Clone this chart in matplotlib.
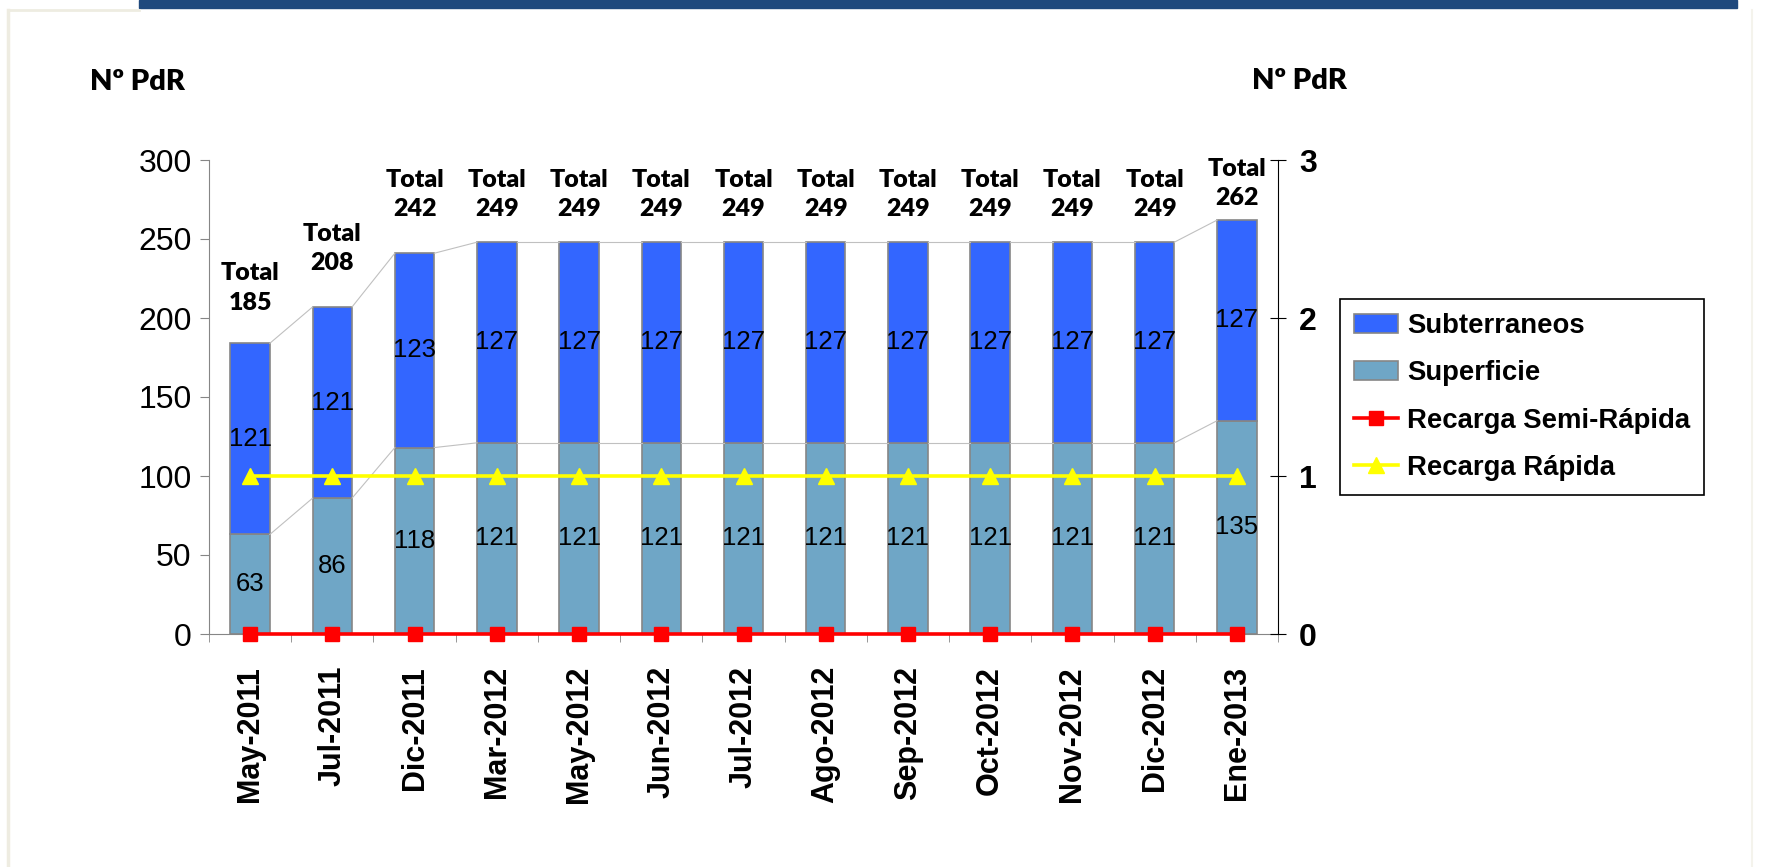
import matplotlib.pyplot as plt
from matplotlib.patches import Rectangle
from matplotlib.lines import Line2D

months = ['May-2011', 'Jul-2011', 'Dic-2011', 'Mar-2012', 'May-2012', 'Jun-2012',
          'Jul-2012', 'Ago-2012', 'Sep-2012', 'Oct-2012', 'Nov-2012', 'Dic-2012', 'Ene-2013']
superficie = [63, 86, 118, 121, 121, 121, 121, 121, 121, 121, 121, 121, 135]
subterraneos = [121, 121, 123, 127, 127, 127, 127, 127, 127, 127, 127, 127, 127]
totales = [185, 208, 242, 249, 249, 249, 249, 249, 249, 249, 249, 249, 262]
semi_rapida = [0] * 13
rapida = [1] * 13

# where the "Total" labels sit (left axis units)
total_label_y = [219, 244, 278, 278, 278, 278, 278, 278, 278, 278, 278, 278, 285]

W, H = 1768, 867
fig = plt.figure(figsize=(W / 100, H / 100), dpi=100)
fig.patch.set_facecolor('white')

# frame decoration
fig.patches.append(Rectangle((139 / W, 1 - 8 / H), (1737 - 139) / W, 8 / H,
                             transform=fig.transFigure, color='#1F497D', zorder=0))
fig.add_artist(Line2D([8 / W, 8 / W], [0, 1 - 10 / H], color='#EEECE1', lw=2.5))
fig.add_artist(Line2D([8 / W, 139 / W], [1 - 10 / H, 1 - 10 / H], color='#EEECE1', lw=2))
fig.add_artist(Line2D([1752 / W, 1752 / W], [0, 1 - 10 / H], color='#F4F3EC', lw=1.5))

ax = fig.add_axes([209 / W, (H - 634) / H, 1069 / W, 474 / H])
ax2 = ax.twinx()

x = list(range(len(months)))
w = 0.48
gray = '#868686'
b1 = ax.bar(x, superficie, w, color='#6FA6C6', edgecolor=gray, linewidth=1.2, label='Superficie')
b2 = ax.bar(x, subterraneos, w, bottom=superficie, color='#3366FF', edgecolor=gray,
            linewidth=1.2, label='Subterraneos')

tops = [a + b for a, b in zip(superficie, subterraneos)]
for i in range(len(x) - 1):
    ax.plot([i + w / 2, i + 1 - w / 2], [superficie[i], superficie[i + 1]], color='#C0C0C0', lw=0.8, zorder=1)
    ax.plot([i + w / 2, i + 1 - w / 2], [tops[i], tops[i + 1]], color='#C0C0C0', lw=0.8, zorder=1)

for i in x:
    ax.text(i, superficie[i] / 2, str(superficie[i]), ha='center', va='center',
            fontsize=18.5, family='Liberation Sans')
    ax.text(i, superficie[i] + subterraneos[i] / 2, str(subterraneos[i]), ha='center', va='center',
            fontsize=18.5, family='Liberation Sans')
    ax.text(i, total_label_y[i], 'Total\n%d' % totales[i], ha='center', va='center',
            fontsize=18, fontweight='heavy', family='Lato', linespacing=1.4)

l1, = ax2.plot(x, semi_rapida, color='#FF0000', lw=2.6, marker='s', markersize=9.5,
               clip_on=False, label='Recarga Semi-Rápida')
l2, = ax2.plot(x, rapida, color='#FFFF00', lw=2.6, marker='^', markersize=11,
               clip_on=False, label='Recarga Rápida')

ax.set_xlim(-0.5, 12.5)
ax.set_ylim(0, 300)
ax2.set_ylim(0, 3)

ax.set_yticks([0, 50, 100, 150, 200, 250, 300])
ax.tick_params(axis='y', direction='out', length=6.5, color=gray, labelsize=23, pad=6)
for t in ax.get_yticklabels():
    t.set_family('Liberation Sans')

ax.set_xticks(x)
ax.set_xticklabels(months, rotation=90, fontsize=22, fontweight='bold', family='Liberation Sans')
ax.set_xticks([i - 0.5 for i in range(len(x) + 1)], minor=True)
ax.tick_params(axis='x', which='major', length=0, pad=23)
ax.tick_params(axis='x', which='minor', direction='out', length=6, color=gray)

ax2.set_yticks([0, 1, 2, 3])
ax2.tick_params(axis='y', direction='inout', length=12, color='black', labelsize=23, pad=9)
for t in ax2.get_yticklabels():
    t.set_family('Liberation Sans')
    t.set_fontweight('bold')

for s in ['top', 'right']:
    ax.spines[s].set_visible(False)
ax.spines['left'].set_color(gray)
ax.spines['bottom'].set_color(gray)
for s in ['top', 'left', 'bottom']:
    ax2.spines[s].set_visible(False)
ax2.spines['right'].set_color('black')

fig.text(90 / W, 1 - 82 / H, 'Nº PdR', fontsize=21, fontweight='heavy', family='Lato', va='center')
fig.text(1252 / W, 1 - 81 / H, 'Nº PdR', fontsize=21, fontweight='heavy', family='Lato', va='center')

leg = ax2.legend([b2, b1, l1, l2], ['Subterraneos', 'Superficie', 'Recarga Semi-Rápida', 'Recarga Rápida'],
                 loc='upper left', bbox_to_anchor=(1340 / W, 1 - 299 / H), bbox_transform=fig.transFigure,
                 prop={'family': 'Liberation Sans', 'weight': 'bold', 'size': 19.8},
                 fancybox=False, framealpha=1, edgecolor='black', borderaxespad=0,
                 handlelength=1.6, handleheight=0.7, labelspacing=0.78, handletextpad=0.35,
                 borderpad=0.5)
leg.get_frame().set_linewidth(1.2)

fig.savefig('out.png', dpi=100)
